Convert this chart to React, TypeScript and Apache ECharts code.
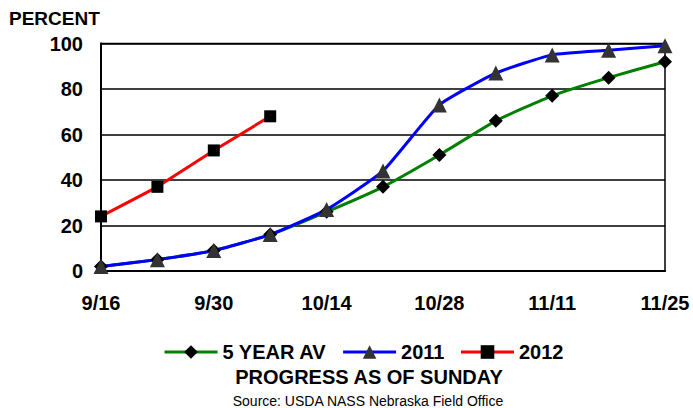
import React, { useEffect, useRef } from "react";
import * as echarts from "echarts";

const categories = ["9/16", "9/23", "9/30", "10/7", "10/14", "10/21", "10/28", "11/4", "11/11", "11/18", "11/25"];
const avg5 = [2, 5, 9, 16, 26, 37, 51, 66, 77, 85, 92];
const y2011 = [2, 5, 9, 16, 27, 44, 73, 87, 95, 97, 99];
const y2012 = [24, 37, 53, 68];
const seriesNames = ["5 YEAR AV", "2011", "2012"];

const FONT = "'Liberation Sans', Arial, sans-serif";

export default function App() {
  const ref = useRef<HTMLDivElement>(null);
  useEffect(() => {
    if (!ref.current) return;
    const chart = echarts.init(ref.current, null, { renderer: "svg" });
    chart.setOption({
      animation: false,
      backgroundColor: "#fff",
      textStyle: { fontFamily: FONT },
      grid: {
        left: 101,
        right: 28,
        top: 43.5,
        bottom: 137,
        show: true,
        borderColor: "#000",
        borderWidth: 1.5,
        containLabel: false,
      },
      legend: {
        data: seriesNames,
        left: 158,
        top: 337,
        itemWidth: 53,
        itemHeight: 17,
        itemGap: 15,
        lineStyle: { width: 3 },
        textStyle: { fontSize: 20, fontWeight: "bold", color: "#000", fontFamily: FONT },
      },
      xAxis: {
        type: "category",
        data: categories,
        boundaryGap: false,
        axisLine: { show: true, lineStyle: { color: "#000", width: 2 } },
        axisTick: { show: false },
        axisLabel: {
          interval: 1,
          margin: 22,
          fontSize: 20,
          fontWeight: "bold",
          color: "#000",
          fontFamily: FONT,
        },
        splitLine: { show: false },
      },
      yAxis: {
        type: "value",
        min: 0,
        max: 100,
        interval: 20,
        axisLine: { show: true, lineStyle: { color: "#000", width: 2 } },
        axisTick: { show: false },
        axisLabel: {
          margin: 18,
          fontSize: 20,
          fontWeight: "bold",
          color: "#000",
          fontFamily: FONT,
        },
        splitLine: { show: true, lineStyle: { color: "#000", width: 1.5 } },
      },
      series: [
        {
          name: seriesNames[0],
          type: "line",
          data: avg5,
          smooth: 0.15,
          symbol: "diamond",
          symbolSize: 14,
          itemStyle: { color: "#000" },
          lineStyle: { color: "#008000", width: 3 },
        },
        {
          name: seriesNames[1],
          type: "line",
          data: y2011,
          smooth: 0.15,
          symbol: "triangle",
          symbolSize: 15,
          itemStyle: { color: "#333333" },
          lineStyle: { color: "#0000ff", width: 3 },
        },
        {
          name: seriesNames[2],
          type: "line",
          data: y2012,
          symbol: "rect",
          symbolSize: 12,
          itemStyle: { color: "#000" },
          lineStyle: { color: "#ff0000", width: 3 },
        },
      ],
      graphic: [
        {
          type: "text",
          left: 9,
          top: 9,
          style: { text: "PERCENT", font: `bold 19px ${FONT}`, fill: "#000" },
        },
        {
          type: "text",
          x: 369,
          y: 377,
          style: {
            text: "PROGRESS AS OF SUNDAY",
            font: `bold 20px ${FONT}`,
            fill: "#000",
            align: "center",
            verticalAlign: "middle",
          },
        },
        {
          type: "text",
          x: 368,
          y: 401,
          style: {
            text: "Source: USDA NASS Nebraska Field Office",
            font: `14px ${FONT}`,
            fill: "#000",
            align: "center",
            verticalAlign: "middle",
          },
        },
      ],
    });
    return () => chart.dispose();
  }, []);
  return (
    <div
      ref={ref}
      style={{ position: "absolute", left: 0, top: 0, width: 693, height: 408 }}
    />
  );
}
